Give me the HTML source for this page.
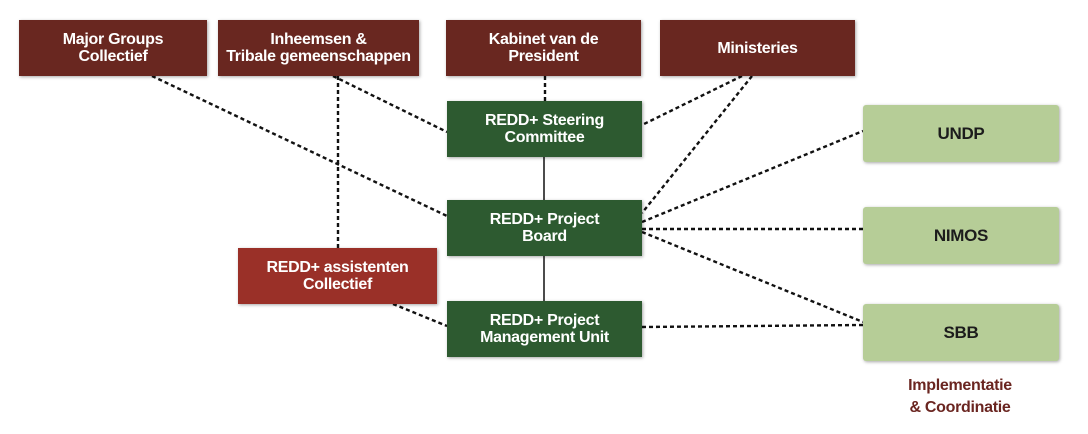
<!DOCTYPE html>
<html><head><meta charset="utf-8"><style>
body{margin:0;background:#fff;width:1088px;height:434px;overflow:hidden;position:relative;font-family:"Liberation Sans",sans-serif}
.b{position:absolute;display:flex;align-items:center;justify-content:center;text-align:center;font-weight:bold;font-size:16px;letter-spacing:-0.3px;line-height:17px;color:#fff;box-shadow:1px 1px 3px rgba(0,0,0,.35)}
.r{background:#692720}.g{background:#2d5a30}.a{background:#9a3028}.l{background:#b6cd97;color:#1c1c1c;border-radius:3px;font-size:17px}
svg{position:absolute;left:0;top:0}
</style></head><body>
<svg width="1088" height="434">
<g stroke="#111" stroke-width="2.4" stroke-dasharray="4,3" fill="none">
<line x1="152" y1="76" x2="447" y2="216"/>
<line x1="338" y1="76" x2="338" y2="248"/>
<line x1="333" y1="76" x2="447" y2="132"/>
<line x1="545" y1="76" x2="545" y2="101"/>
<line x1="742" y1="76" x2="642" y2="125"/>
<line x1="752" y1="76" x2="642" y2="213"/>
<line x1="642" y1="222" x2="863" y2="131"/>
<line x1="642" y1="229" x2="863" y2="229"/>
<line x1="642" y1="232" x2="863" y2="322"/>
<line x1="642" y1="327" x2="863" y2="325"/>
<line x1="393" y1="304" x2="447" y2="326"/>
</g>
<g stroke="#111" stroke-width="1.5">
<line x1="544" y1="157" x2="544" y2="200"/>
<line x1="544" y1="256" x2="544" y2="301"/>
</g>
</svg>
<div class="b r" style="left:19px;top:20px;width:188px;height:56px">Major Groups<br>Collectief</div>
<div class="b r" style="left:218px;top:20px;width:201px;height:56px">Inheemsen &amp;<br>Tribale gemeenschappen</div>
<div class="b r" style="left:446px;top:20px;width:195px;height:56px">Kabinet van de<br>President</div>
<div class="b r" style="left:660px;top:20px;width:195px;height:56px">Ministeries</div>
<div class="b g" style="left:447px;top:101px;width:195px;height:56px">REDD+ Steering<br>Committee</div>
<div class="b g" style="left:447px;top:200px;width:195px;height:56px">REDD+ Project<br>Board</div>
<div class="b g" style="left:447px;top:301px;width:195px;height:56px">REDD+ Project<br>Management Unit</div>
<div class="b a" style="left:238px;top:248px;width:199px;height:56px">REDD+ assistenten<br>Collectief</div>
<div class="b l" style="left:863px;top:105px;width:196px;height:57px">UNDP</div>
<div class="b l" style="left:863px;top:207px;width:196px;height:57px">NIMOS</div>
<div class="b l" style="left:863px;top:304px;width:196px;height:57px">SBB</div>
<div style="position:absolute;left:880px;top:375px;width:160px;text-align:center;font-weight:bold;font-size:16px;letter-spacing:-0.3px;line-height:22px;color:#6a2520">Implementatie<br>&amp; Coordinatie</div>
</body></html>
